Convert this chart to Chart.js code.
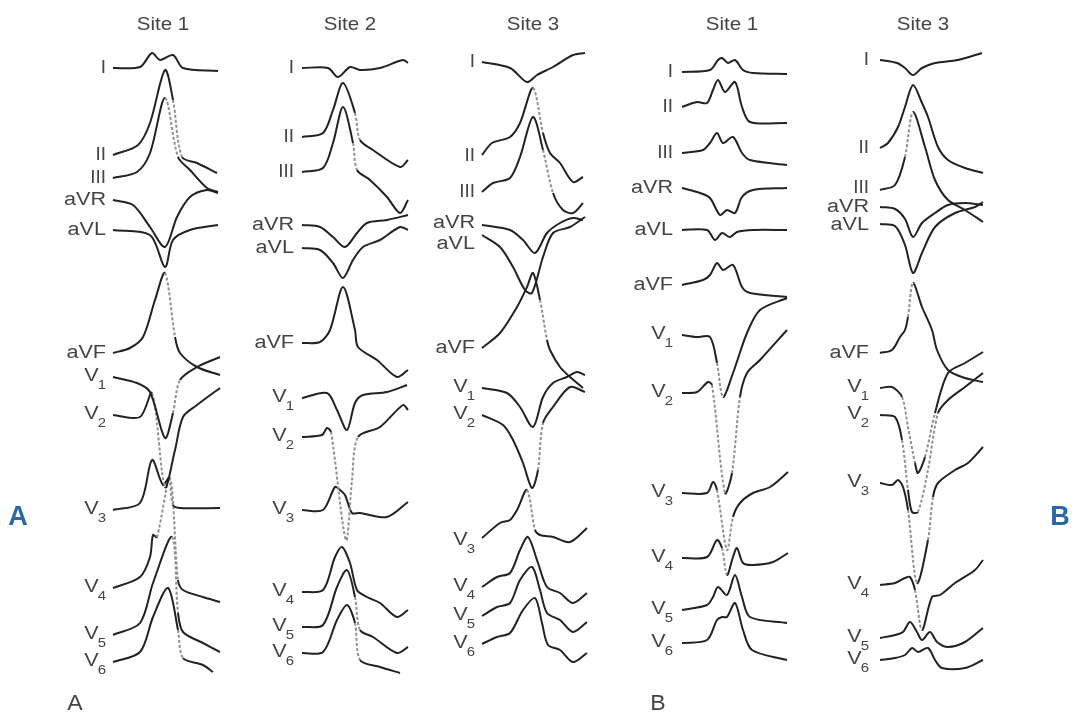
<!DOCTYPE html>
<html>
<head>
<meta charset="utf-8">
<title>ECG sites</title>
<script src="https://cdn.jsdelivr.net/npm/chart.js@4.4.0/dist/chart.umd.min.js"></script>
<style>
  html, body { margin: 0; padding: 0; background: #fff; }
  #wrap { width: 1073px; height: 716px; }
</style>
</head>
<body>
<div id="wrap"><canvas id="ecg" width="1073" height="716"></canvas></div>
<script>
// lead names and panel titles
const leads = ['I', 'II', 'III', 'aVR', 'aVL', 'aVF', 'V1', 'V2', 'V3', 'V4', 'V5', 'V6'];
const siteTitles = ['Site 1', 'Site 2', 'Site 3', 'Site 1', 'Site 3'];

// each trace: [time offset, amplitude] pairs
const siteA1 = [
  [[0,0],[27,1],[39,15],[47,8],[60,13],[70,0],[105,-3]],
  [[0,0],[25,10],[37,32],[52,85],[60,55],[69,-2],[84,-8],[104,-18]],
  [[0,0],[24,6],[37,25],[52,80],[65,21],[77,8],[94,-10],[105,-14]],
  [[0,0],[20,-5],[37,-27],[52,-47],[64,-17],[77,3],[94,10],[105,7]],
  [[0,0],[37,-5],[52,-37],[60,-10],[77,0],[105,5]],
  [[0,0],[17,5],[30,16],[42,53],[52,80],[62,16],[67,0],[84,-14],[107,-22]],
  [[0,0],[24,-6],[37,-15],[52,-61],[60,-36],[67,-3],[84,10],[107,20]],
  [[0,0],[27,-2],[39,22],[52,-72],[62,-35],[70,-2],[84,10],[107,27]],
  [[0,0],[27,7],[39,50],[50,25],[56,32],[60,5],[67,2],[107,2]],
  [[0,0],[27,11],[37,31],[40,53],[44,51],[57,110],[65,8],[70,-2],[90,-9],[107,-14]],
  [[0,0],[27,12],[40,52],[59,98],[65,22],[70,3],[90,-8],[107,-17]],
  [[0,0],[27,10],[40,45],[55,74],[65,32],[70,4],[90,-3],[100,-10]]
];

const siteA2 = [
  [[0,0],[26,0],[36,-9],[48,1],[58,-2],[78,0],[101,8],[106,5]],
  [[0,0],[21,4],[31,27],[41,54],[53,24],[58,-3],[71,-13],[98,-30],[106,-23]],
  [[0,0],[21,4],[31,29],[41,65],[51,29],[55,2],[68,-8],[85,-25],[98,-41],[106,-28]],
  [[0,0],[18,-2],[31,-12],[43,-22],[55,-8],[65,2],[85,5],[106,10]],
  [[0,0],[18,-2],[31,-15],[41,-30],[51,-12],[61,1],[78,8],[98,21],[106,18]],
  [[0,0],[18,1],[28,13],[41,56],[53,13],[56,-4],[75,-17],[95,-34],[106,-27]],
  [[0,0],[25,5],[35,-12],[45,-32],[53,-5],[61,3],[85,6],[105,13]],
  [[0,0],[20,2],[25,9],[29,5],[44,-103],[50,-43],[56,0],[78,10],[101,32],[106,27]],
  [[0,0],[21,0],[33,23],[38,20],[43,15],[50,-3],[58,-3],[85,-7],[106,8]],
  [[0,0],[21,2],[33,35],[40,45],[48,29],[55,2],[65,-5],[78,-11],[95,-25],[106,-18]],
  [[0,0],[21,2],[35,40],[45,57],[53,30],[58,-3],[71,-10],[95,-26],[106,-20]],
  [[0,0],[21,1],[35,33],[45,48],[53,30],[58,-7],[78,-14],[98,-20]]
];

const siteA3 = [
  [[0,0],[28,-6],[45,-20],[55,-13],[71,-5],[91,7],[103,9]],
  [[0,0],[10,12],[28,18],[38,32],[51,67],[61,22],[68,2],[78,-8],[91,-27],[101,-22]],
  [[0,0],[11,9],[28,14],[38,35],[51,75],[61,42],[71,-1],[81,-18],[91,-21],[101,-11]],
  [[0,0],[28,-5],[41,-15],[53,-28],[65,-8],[78,2],[91,7],[101,5]],
  [[0,0],[18,-12],[31,-32],[43,-55],[50,-58],[61,-22],[71,2],[88,8],[103,18]],
  [[0,0],[18,15],[35,41],[45,61],[51,75],[58,48],[65,8],[68,-2],[78,-19],[88,-29],[101,-40]],
  [[0,0],[25,-5],[38,-19],[51,-39],[61,-9],[71,5],[85,11],[95,16],[103,13]],
  [[0,0],[21,-10],[31,-25],[41,-48],[50,-73],[56,-55],[61,-8],[71,8],[88,28],[103,23]],
  [[0,0],[18,15],[28,18],[35,28],[45,48],[53,8],[58,3],[71,1],[88,-4],[105,10]],
  [[0,0],[15,10],[28,14],[38,37],[46,50],[56,24],[65,0],[78,-6],[91,-16],[105,-6]],
  [[0,0],[15,9],[28,13],[38,36],[50,49],[58,26],[65,3],[78,-4],[91,-16],[105,-6]],
  [[0,0],[15,7],[28,11],[41,34],[53,46],[60,21],[66,-1],[78,-6],[91,-18],[105,-9]]
];

const siteB1 = [
  [[0,0],[28,2],[36,12],[40,14],[46,9],[53,12],[61,2],[71,-1],[105,-2]],
  [[0,0],[15,5],[25,4],[31,17],[36,27],[43,15],[53,25],[60,0],[68,-15],[105,-16]],
  [[0,0],[21,3],[28,10],[35,20],[41,10],[51,16],[60,0],[68,-7],[105,-12]],
  [[0,0],[18,-5],[28,-10],[38,-27],[45,-22],[53,-25],[60,-9],[71,-2],[105,0]],
  [[0,0],[25,0],[33,-10],[40,-3],[48,-7],[55,-2],[71,0],[105,0]],
  [[0,0],[21,5],[28,10],[35,22],[41,15],[51,20],[60,-2],[68,-8],[105,-12]],
  [[0,0],[15,-2],[28,-2],[35,-28],[41,-62],[51,-38],[65,2],[78,25],[105,37]],
  [[0,0],[15,1],[26,11],[30,8],[43,-100],[50,-80],[58,-4],[65,20],[78,33],[105,63]],
  [[0,0],[25,0],[31,11],[35,3],[45,-57],[51,-24],[58,-10],[71,0],[88,6],[106,21]],
  [[0,0],[25,1],[35,18],[40,10],[45,-17],[51,1],[55,10],[61,-5],[71,-7],[91,-4],[106,5]],
  [[0,0],[25,5],[31,13],[36,23],[45,15],[53,35],[60,13],[68,-7],[105,-13]],
  [[0,0],[25,3],[35,23],[40,26],[45,26],[53,40],[61,13],[70,-7],[105,-17]]
];

const siteB3 = [
  [[0,0],[17,-3],[25,-8],[33,-15],[42,-8],[55,-3],[78,0],[102,7]],
  [[0,0],[8,5],[18,21],[25,41],[33,63],[42,45],[48,31],[58,1],[68,-12],[85,-20],[103,-25]],
  [[0,0],[15,5],[25,33],[33,78],[45,43],[55,10],[68,-10],[85,-20],[103,-32]],
  [[0,0],[15,-2],[25,-12],[33,-30],[42,-16],[55,-6],[68,2],[85,4],[103,2]],
  [[0,0],[15,-2],[25,-21],[33,-49],[42,-29],[55,-3],[75,11],[95,17],[103,22]],
  [[0,0],[12,3],[20,16],[25,23],[28,36],[33,70],[42,46],[52,23],[57,3],[68,-17],[85,-25],[103,-29]],
  [[0,0],[12,1],[22,-9],[28,-39],[35,-75],[38,-85],[45,-69],[55,-25],[68,15],[85,25],[103,36]],
  [[0,0],[15,-2],[22,-25],[28,-75],[32,-97],[38,-97],[48,-55],[58,2],[68,15],[85,28],[103,42]],
  [[0,0],[12,-2],[18,3],[23,-4],[28,-27],[37,-100],[48,-57],[53,-14],[58,0],[75,13],[88,20],[103,36]],
  [[0,0],[15,2],[25,7],[30,8],[35,-5],[42,-45],[52,-12],[60,-10],[75,2],[95,15],[103,25]],
  [[0,0],[15,3],[23,6],[30,16],[37,6],[42,-2],[50,6],[57,-4],[68,-9],[85,-4],[103,10]],
  [[0,0],[15,2],[25,5],[32,12],[38,8],[48,12],[55,0],[62,-8],[85,-8],[103,0]]
];

// layout: where each panel's traces start and each lead's baseline sits
const traceStart = [113, 302, 482, 682, 880];
const titleX = [163, 350, 533, 732, 923];
const labelGap = [7, 8, 7, 9, 11];
const baseA1 = [68, 155, 178, 200, 230, 353, 377, 415, 510, 588, 635, 662];
const baseA2 = [68, 137, 172, 225, 248, 343, 398, 437, 510, 592, 627, 653];
const baseA3 = [62, 155, 192, 225, 235, 348, 388, 415, 538, 587, 616, 644];
const baseB1 = [72, 107, 153, 188, 230, 285, 335, 393, 493, 558, 610, 643];
const baseB3 = [60, 148, 190, 207, 224, 353, 388, 415, 483, 585, 638, 660];
// label nudges where labels sit off their trace start
const shiftA3 = [0, 1, 0, -2, 9, 0, 0, 0, 3, 0, 0, 0];
const shiftB3 = [0, 0, -2, 0, 1, 0, 0, 0, 0, 0, 0, 0];
const zeros = [0, 0, 0, 0, 0, 0, 0, 0, 0, 0, 0, 0];

const panels = [siteA1, siteA2, siteA3, siteB1, siteB3];
const baselines = [baseA1, baseA2, baseA3, baseB1, baseB3];
const labelShift = [zeros, zeros, shiftA3, zeros, shiftB3];

function steep(ctx) {
  const dx = Math.abs(ctx.p1.x - ctx.p0.x);
  const dy = Math.abs(ctx.p1.y - ctx.p0.y);
  return dy > 4.2 * dx && dy > 25;
}

const datasets = [];
panels.forEach((panel, i) => {
  panel.forEach((trace, j) => {
    datasets.push({
      label: siteTitles[i] + ' ' + leads[j],
      data: trace.map(([t, a]) => ({ x: traceStart[i] + t, y: baselines[i][j] - a })),
      borderColor: '#222',
      borderWidth: 2,
      pointRadius: 0,
      fill: false,
      tension: 0.3,
      segment: {
        borderDash: ctx => steep(ctx) ? [3, 2] : undefined,
        borderColor: ctx => steep(ctx) ? '#909090' : undefined
      }
    });
  });
});

const FONT = '"Liberation Sans", Arial, sans-serif';

// text drawn stretched sideways, like the figure's wide lettering
function wideText(ctx, text, px, py, size, stretch) {
  ctx.save();
  ctx.translate(px, py);
  ctx.scale(stretch, 1);
  ctx.font = size + 'px ' + FONT;
  ctx.fillText(text, 0, 0);
  ctx.restore();
}

// draws lead labels, titles and panel letters
const textPlugin = {
  id: 'ecgText',
  afterDraw(chart) {
    const { ctx, scales: { x, y } } = chart;
    ctx.save();
    ctx.fillStyle = '#444';
    ctx.textBaseline = 'middle';

    ctx.textAlign = 'center';
    siteTitles.forEach((t, i) => {
      wideText(ctx, t, x.getPixelForValue(titleX[i]), y.getPixelForValue(25), 19, 1.08);
    });

    ctx.textAlign = 'right';
    baselines.forEach((base, i) => {
      const right = x.getPixelForValue(traceStart[i] - labelGap[i]);
      leads.forEach((lead, j) => {
        const py = y.getPixelForValue(base[j] + labelShift[i][j]);
        if (lead[0] === 'V') {
          ctx.font = '13px ' + FONT;
          const subW = ctx.measureText(lead.slice(1)).width * 1.15;
          wideText(ctx, lead.slice(1), right, py + 8, 13, 1.15);
          wideText(ctx, 'V', right - subW + 1, py - 1, 18, 1.2);
        } else if (lead[0] === 'I') {
          wideText(ctx, lead, right, py, 18, 1.05);
        } else {
          wideText(ctx, lead, right, py, 18, 1.2);
        }
      });
    });

    ctx.textAlign = 'center';
    wideText(ctx, 'A', x.getPixelForValue(75), y.getPixelForValue(704), 22, 1.05);
    wideText(ctx, 'B', x.getPixelForValue(658), y.getPixelForValue(704), 22, 1.05);

    ctx.fillStyle = '#2a67ad';
    ctx.font = 'bold 27px ' + FONT;
    ctx.fillText('A', x.getPixelForValue(18), y.getPixelForValue(518));
    ctx.fillText('B', x.getPixelForValue(1060), y.getPixelForValue(518));
    ctx.restore();
  }
};

new Chart(document.getElementById('ecg'), {
  type: 'line',
  data: { datasets },
  options: {
    responsive: false,
    animation: false,
    layout: { padding: 0 },
    plugins: { legend: { display: false }, tooltip: { enabled: false }, title: { display: false } },
    scales: {
      x: { type: 'linear', min: 0, max: 1073, display: false },
      y: { type: 'linear', min: 0, max: 716, reverse: true, display: false }
    }
  },
  plugins: [textPlugin]
});
</script>
</body>
</html>
